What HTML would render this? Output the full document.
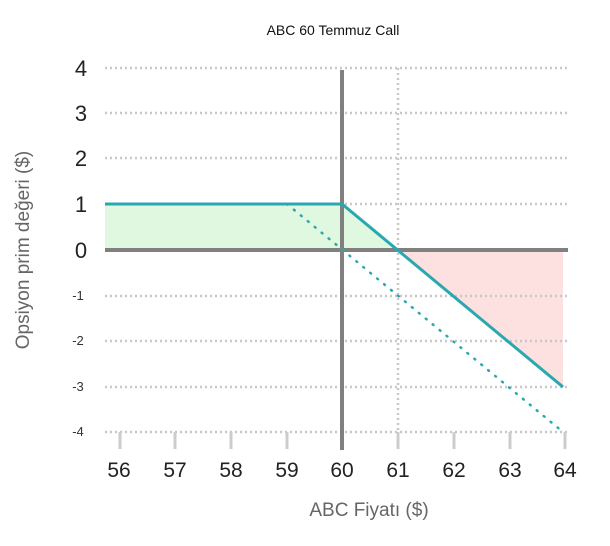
<!DOCTYPE html>
<html><head><style>body{margin:0;background:#fff}svg{display:block}</style></head><body>
<svg width="610" height="546" xmlns="http://www.w3.org/2000/svg" font-family="Liberation Sans, sans-serif">
<text x="333" y="35" font-size="14" text-anchor="middle" fill="#111">ABC 60 Temmuz Call</text>
<polygon points="105,204 342,204 398,250 105,250" fill="#dff8df"/>
<polygon points="398,250 563,387 563,250" fill="#fde0e0"/>
<g stroke="#c8c8c8" stroke-width="2.5" stroke-dasharray="2 3">
<line x1="105" y1="68" x2="570" y2="68"/><line x1="105" y1="113" x2="570" y2="113"/>
<line x1="105" y1="158" x2="570" y2="158"/><line x1="105" y1="204" x2="570" y2="204"/>
<line x1="105" y1="296" x2="570" y2="296"/><line x1="105" y1="341" x2="570" y2="341"/>
<line x1="105" y1="387" x2="570" y2="387"/><line x1="105" y1="432" x2="570" y2="432"/>
<line x1="398" y1="68" x2="398" y2="432"/>
</g>
<g stroke="#ccc" stroke-width="3">
<line x1="120" y1="432" x2="120" y2="449"/><line x1="175" y1="432" x2="175" y2="449"/>
<line x1="231" y1="432" x2="231" y2="449"/><line x1="287" y1="432" x2="287" y2="449"/>
<line x1="398" y1="432" x2="398" y2="449"/><line x1="454" y1="432" x2="454" y2="449"/>
<line x1="510" y1="432" x2="510" y2="449"/><line x1="565" y1="432" x2="565" y2="449"/>
</g>
<line x1="342" y1="70" x2="342" y2="450" stroke="#808080" stroke-width="4"/>
<line x1="105" y1="250" x2="568" y2="250" stroke="#808080" stroke-width="4"/>
<line x1="287" y1="204" x2="563" y2="432" stroke="#2aa8b0" stroke-width="2.5" stroke-dasharray="1 8" stroke-linecap="round"/>
<polyline points="105,204 342,204 563,387" fill="none" stroke="#2aa8b0" stroke-width="3"/>
<g font-size="22" fill="#222" text-anchor="middle">
<text x="81" y="76">4</text><text x="81" y="121">3</text><text x="81" y="166">2</text>
<text x="81" y="212">1</text><text x="81" y="258">0</text>
</g>
<g font-size="13" fill="#333" text-anchor="middle">
<text x="78" y="300">-1</text><text x="78" y="345">-2</text><text x="78" y="391">-3</text><text x="78" y="436">-4</text>
</g>
<g font-size="21" fill="#222" text-anchor="middle">
<text x="119" y="477">56</text><text x="175" y="477">57</text><text x="231" y="477">58</text>
<text x="287" y="477">59</text><text x="342" y="477">60</text><text x="398" y="477">61</text>
<text x="454" y="477">62</text><text x="510" y="477">63</text><text x="565" y="477">64</text>
</g>
<text x="369" y="516" font-size="19" fill="#666" text-anchor="middle">ABC Fiyatı ($)</text>
<text transform="translate(29,250) rotate(-90)" font-size="19" fill="#666" text-anchor="middle">Opsiyon prim değeri ($)</text>
</svg>
</body></html>
